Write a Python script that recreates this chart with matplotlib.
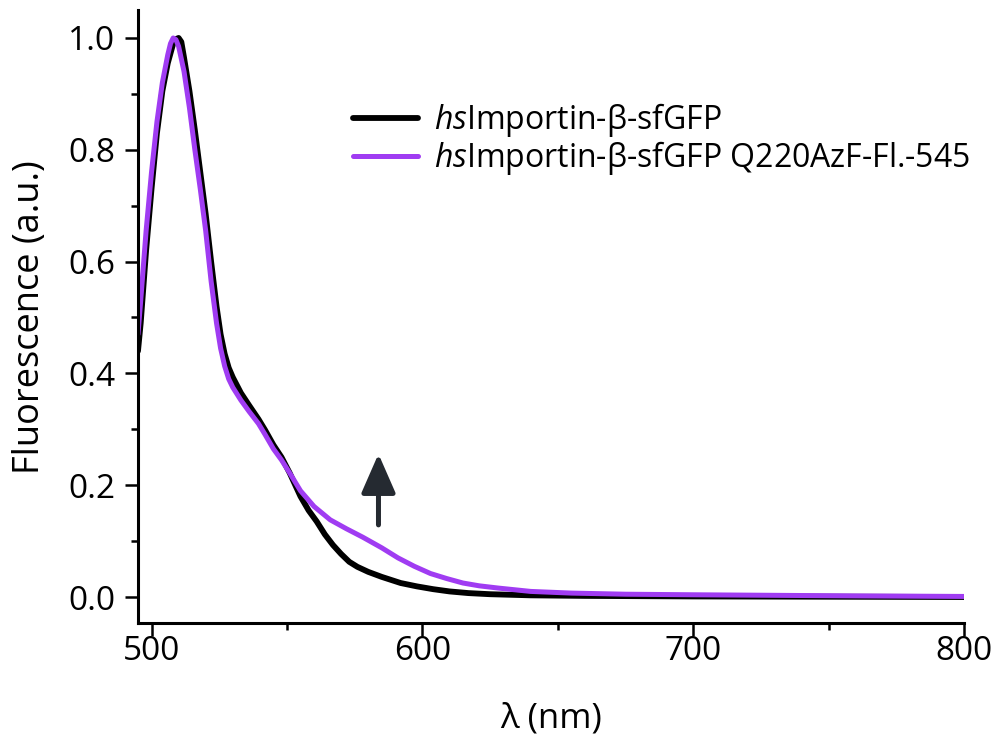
import matplotlib
matplotlib.use("Agg")
from matplotlib import pyplot as plt

# emission spectra
wl_wt = [495, 496, 498, 500, 502, 504, 506, 508, 509, 510, 511, 512, 514, 516, 518,
         520, 522, 524, 525.5, 527, 528.5, 530, 533, 536, 539.5, 542, 545, 548, 551,
         555, 558, 561, 564, 567, 570, 573, 576, 580, 585, 592, 598, 604, 610, 617,
         625, 640, 660, 700, 800]
fl_wt = [0.44, 0.49, 0.62, 0.73, 0.83, 0.905, 0.955, 0.99, 0.998, 1.0, 0.993, 0.965,
         0.905, 0.835, 0.76, 0.685, 0.60, 0.52, 0.47, 0.435, 0.41, 0.393, 0.365, 0.343,
         0.318, 0.298, 0.272, 0.25, 0.222, 0.18, 0.155, 0.135, 0.112, 0.093, 0.077,
         0.063, 0.054, 0.045, 0.036, 0.025, 0.019, 0.014, 0.010, 0.007, 0.005, 0.003,
         0.002, 0.001, 0.0]

wl_fl = [495, 496, 498, 500, 502, 504, 506, 507, 508, 509, 510, 512, 514, 516, 518,
         520, 522, 524, 525.5, 527, 528.5, 530, 533, 536, 539.5, 542, 545, 548, 551,
         555, 560, 566, 572, 578, 585, 591, 597, 603, 609, 615, 621, 628, 640, 655,
         675, 700, 730, 760, 800]
fl_fl = [0.47, 0.53, 0.655, 0.76, 0.85, 0.92, 0.97, 0.99, 1.0, 0.997, 0.985, 0.94,
         0.875, 0.80, 0.73, 0.655, 0.565, 0.49, 0.445, 0.413, 0.39, 0.375, 0.352, 0.332,
         0.31, 0.29, 0.265, 0.245, 0.222, 0.19, 0.162, 0.138, 0.122, 0.107, 0.088, 0.07,
         0.055, 0.042, 0.033, 0.025, 0.02, 0.016, 0.010, 0.007, 0.005, 0.004, 0.003,
         0.002, 0.001]

labels = [r"$\it{hs}$Importin-β-sfGFP", r"$\it{hs}$Importin-β-sfGFP Q220AzF-Fl.-545"]
colors = ["black", "#a03cf2"]

plt.rcParams['font.family'] = ['Open Sans', 'DejaVu Sans']
plt.rcParams['mathtext.fontset'] = 'custom'
plt.rcParams['mathtext.rm'] = 'Open Sans'
plt.rcParams['mathtext.it'] = 'Open Sans:italic'

fig = plt.figure(figsize=(9.97, 7.42), dpi=100)
ax = fig.add_axes([0.1384, 0.160, 0.8285, 0.8265])

ax.plot(wl_wt, fl_wt, color=colors[0], lw=4.2, label=labels[0], solid_capstyle="round")
ax.plot(wl_fl, fl_fl, color=colors[1], lw=3.6, label=labels[1], solid_capstyle="round")

ax.annotate("", xy=(583.8, 0.256), xytext=(583.8, 0.129),
            arrowprops=dict(arrowstyle="-|>,head_length=24,head_width=10.5",
                            mutation_scale=1, lw=3.6, color="#252a31",
                            shrinkA=0, shrinkB=0))

ax.set_xlim(495, 800)
ax.set_ylim(-0.047, 1.05)
ax.set_xticks([500, 600, 700, 800])
ax.set_xticks([550, 650, 750], minor=True)
ax.set_yticks([0.0, 0.2, 0.4, 0.6, 0.8, 1.0])
ax.set_yticks([0.1, 0.3, 0.5, 0.7, 0.9], minor=True)
ax.set_yticklabels(["0.0", "0.2", "0.4", "0.6", "0.8", "1.0"])

for side in ["top", "right"]:
    ax.spines[side].set_visible(False)
for side in ["left", "bottom"]:
    ax.spines[side].set_linewidth(2.2)

ax.tick_params(which="major", length=9.5, width=1.8, labelsize=24)
ax.tick_params(axis="x", which="major", pad=-1)
ax.tick_params(axis="y", which="major", pad=7)
ax.tick_params(which="minor", length=5, width=1.8)

ax.set_xlabel("λ (nm)", fontsize=25, labelpad=24)
ax.set_ylabel("Fluorescence (a.u.)", fontsize=26, labelpad=14)

ax.legend(loc="upper left", bbox_to_anchor=(353 / 997, 1 - 101 / 742),
          bbox_transform=fig.transFigure, frameon=False, fontsize=23,
          handlelength=2.05, handletextpad=0.5, borderpad=0, borderaxespad=0,
          labelspacing=0.0)

fig.savefig("out.png", dpi=100)
